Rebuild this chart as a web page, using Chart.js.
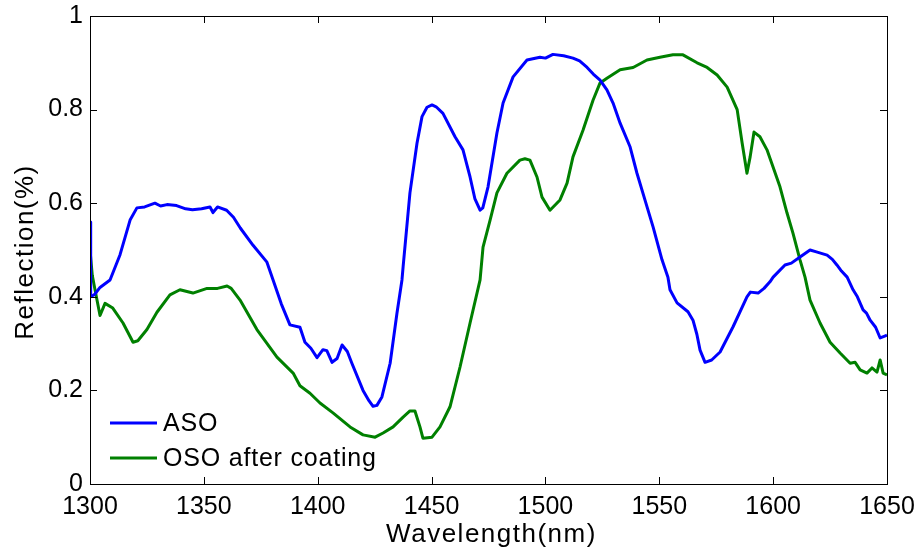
<!DOCTYPE html>
<html>
<head>
<meta charset="utf-8">
<script src="https://cdn.jsdelivr.net/npm/chart.js@4.4.1/dist/chart.umd.min.js"></script>
<style>
  html, body { margin: 0; padding: 0; background: #fff; }
  #wrap { width: 923px; height: 558px; }
</style>
</head>
<body>
<div id="wrap"><canvas id="chart" width="923" height="558"></canvas></div>
<script>
// wavelength (nm) / reflection
const asoWl = [1300, 1300.3, 1302, 1304.4, 1308.8, 1313.2, 1317.6, 1320.6, 1324, 1328.5, 1331, 1333.8, 1338, 1342, 1345, 1349, 1352.7, 1354, 1356, 1360, 1363, 1366, 1371.6, 1377.7, 1380.4, 1384, 1387.8, 1392.2, 1394.4, 1397, 1399.7, 1402.3, 1404, 1406.3, 1408.5, 1410.7, 1413, 1415, 1419.9, 1422.5, 1424.3, 1426, 1428.2, 1431.8, 1434.8, 1437, 1437.5, 1440.5, 1443.6, 1445.8, 1448, 1450.2, 1452, 1455, 1460.3, 1463.8, 1466.9, 1469, 1471.3, 1472.5, 1474.8, 1478.7, 1481.4, 1485.8, 1491.9, 1497.6, 1500, 1503.3, 1508, 1512.1, 1515, 1518.3, 1521, 1524, 1527, 1529.7, 1532.8, 1537.2, 1540.2, 1543.7, 1547.3, 1551.2, 1553.8, 1554.7, 1557.8, 1562.6, 1564.8, 1566.5, 1567.9, 1570.1, 1573, 1576.7, 1582.4, 1588.5, 1590, 1593.4, 1596, 1598.6, 1600, 1605.2, 1608, 1611.8, 1616.2, 1619, 1623.7, 1626, 1628, 1630, 1632.5, 1635.1, 1637, 1639.5, 1641, 1642.6, 1645, 1647, 1649, 1650];
const asoR = [0.56, 0.40, 0.405, 0.42, 0.436, 0.49, 0.564, 0.59, 0.592, 0.60, 0.594, 0.597, 0.595, 0.588, 0.586, 0.588, 0.592, 0.58, 0.592, 0.585, 0.57, 0.547, 0.51, 0.474, 0.436, 0.385, 0.34, 0.335, 0.303, 0.29, 0.27, 0.287, 0.285, 0.26, 0.268, 0.297, 0.283, 0.258, 0.20, 0.178, 0.166, 0.168, 0.186, 0.258, 0.365, 0.436, 0.464, 0.622, 0.728, 0.785, 0.805, 0.81, 0.806, 0.792, 0.742, 0.714, 0.656, 0.61, 0.585, 0.59, 0.635, 0.75, 0.814, 0.87, 0.906, 0.912, 0.91, 0.918, 0.915, 0.91, 0.904, 0.89, 0.876, 0.863, 0.842, 0.814, 0.771, 0.72, 0.664, 0.607, 0.549, 0.479, 0.442, 0.415, 0.387, 0.368, 0.35, 0.32, 0.286, 0.26, 0.265, 0.282, 0.336, 0.40, 0.41, 0.408, 0.418, 0.432, 0.442, 0.468, 0.472, 0.485, 0.50, 0.496, 0.489, 0.48, 0.468, 0.455, 0.442, 0.415, 0.4, 0.372, 0.365, 0.35, 0.335, 0.312, 0.316, 0.318];

const osoWl = [1300, 1301, 1302.2, 1304.4, 1306.6, 1310, 1314.5, 1318.9, 1321, 1325, 1329.4, 1335.1, 1339.5, 1345.2, 1351.4, 1356, 1360.2, 1362, 1365.9, 1373.3, 1382.1, 1389.2, 1392.2, 1396.6, 1401, 1406.7, 1414.2, 1419.9, 1425.2, 1428.7, 1433.1, 1437.5, 1440.5, 1442.7, 1444.9, 1446.2, 1450.2, 1453.7, 1458.1, 1462.5, 1466.9, 1471.3, 1472.6, 1475.7, 1478.7, 1483.1, 1488.8, 1491, 1493.2, 1496.3, 1498.5, 1502, 1506.4, 1509.5, 1512.1, 1516.5, 1520.9, 1524, 1527, 1532.8, 1538.5, 1544.6, 1550.3, 1556, 1560.4, 1566.6, 1571, 1575.4, 1579.8, 1584.2, 1586.4, 1588.5, 1589.9, 1591.6, 1594.2, 1597.3, 1600, 1603, 1606.1, 1608.7, 1611.8, 1614, 1616.2, 1620.6, 1625, 1629.4, 1633.8, 1636, 1638.2, 1641.2, 1643.4, 1645.6, 1647, 1648.3, 1650];
const osoR = [0.50, 0.446, 0.415, 0.36, 0.386, 0.376, 0.344, 0.303, 0.306, 0.33, 0.367, 0.404, 0.415, 0.408, 0.418, 0.418, 0.423, 0.418, 0.393, 0.33, 0.271, 0.237, 0.21, 0.194, 0.173, 0.152, 0.122, 0.105, 0.10, 0.109, 0.122, 0.143, 0.156, 0.156, 0.122, 0.098, 0.10, 0.122, 0.165, 0.25, 0.344, 0.436, 0.506, 0.564, 0.622, 0.664, 0.692, 0.695, 0.692, 0.656, 0.613, 0.585, 0.607, 0.643, 0.699, 0.756, 0.82, 0.857, 0.867, 0.885, 0.89, 0.906, 0.912, 0.917, 0.917, 0.90, 0.89, 0.874, 0.848, 0.80, 0.728, 0.664, 0.699, 0.752, 0.742, 0.714, 0.677, 0.635, 0.579, 0.536, 0.479, 0.442, 0.393, 0.344, 0.303, 0.28, 0.258, 0.26, 0.244, 0.237, 0.248, 0.239, 0.265, 0.237, 0.233];

const xTicks = [1300, 1350, 1400, 1450, 1500, 1550, 1600, 1650];
const yTicks = [0, 0.2, 0.4, 0.6, 0.8, 1];
const seriesNames = ['ASO', 'OSO after coating'];
const seriesColors = ['#0000ff', '#008000'];
const xTitle = 'Wavelength(nm)';
const yTitle = 'Reflection(%)';

const FONT = '"Liberation Sans", Arial, sans-serif';
const pts = (xs, ys) => xs.map((x, i) => ({ x: x, y: ys[i] }));

// frame box, inward ticks on all sides, legend and axis titles (matlab look)
const framePlugin = {
    id: 'frame',
    afterDatasetsDraw(chart) {
        const { ctx, chartArea: a, scales } = chart;
        ctx.save();
        ctx.strokeStyle = '#000';
        ctx.lineWidth = 1;
        ctx.strokeRect(a.left + 0.5, a.top + 0.5, a.right - a.left, a.bottom - a.top);
        const len = 7;
        ctx.beginPath();
        xTicks.forEach(v => {
            const px = Math.round(scales.x.getPixelForValue(v)) + 0.5;
            ctx.moveTo(px, a.bottom); ctx.lineTo(px, a.bottom - len);
            ctx.moveTo(px, a.top); ctx.lineTo(px, a.top + len);
        });
        yTicks.forEach(v => {
            const py = Math.round(scales.y.getPixelForValue(v)) + 0.5;
            ctx.moveTo(a.left, py); ctx.lineTo(a.left + len, py);
            ctx.moveTo(a.right, py); ctx.lineTo(a.right - len, py);
        });
        ctx.stroke();

        // legend inside lower-left
        ctx.font = '25px ' + FONT;
        ctx.letterSpacing = '0.8px';
        ctx.textBaseline = 'middle';
        ctx.fillStyle = '#000';
        const lx = a.left + 20, ly = a.bottom - 61;
        seriesNames.forEach((n, i) => {
            const y = ly + i * 35;
            ctx.strokeStyle = seriesColors[i];
            ctx.lineWidth = 3;
            ctx.beginPath(); ctx.moveTo(lx, y); ctx.lineTo(lx + 47, y); ctx.stroke();
            ctx.fillText(n, lx + 53, y + 1);
        });

        // axis titles
        ctx.font = '26px ' + FONT;
        ctx.letterSpacing = '1.5px';
        ctx.textAlign = 'center';
        ctx.fillText(xTitle, (a.left + a.right) / 2 + 3, 535);
        ctx.translate(26, (a.top + a.bottom) / 2 + 2);
        ctx.rotate(-Math.PI / 2);
        ctx.fillText(yTitle, 0, 0);
        ctx.restore();
    }
};

new Chart(document.getElementById('chart'), {
    type: 'line',
    data: {
        datasets: [
            { label: seriesNames[0], data: pts(asoWl, asoR), borderColor: seriesColors[0], borderWidth: 3, pointRadius: 0, tension: 0, borderJoinStyle: 'round' },
            { label: seriesNames[1], data: pts(osoWl, osoR), borderColor: seriesColors[1], borderWidth: 3, pointRadius: 0, tension: 0, borderJoinStyle: 'round' }
        ]
    },
    options: {
        responsive: false,
        animation: false,
        layout: { padding: { top: 16, right: 36, left: 0, bottom: 0 } },
        plugins: { legend: { display: false }, tooltip: { enabled: false } },
        scales: {
            x: {
                type: 'linear', min: 1300, max: 1650,
                afterFit: s => { s.height = 74; s.paddingLeft = 0; s.paddingRight = 0; },
                afterBuildTicks: s => { s.ticks = xTicks.map(v => ({ value: v })); },
                grid: { display: false, drawTicks: false },
                border: { display: false },
                ticks: { color: '#000', font: { family: FONT, size: 25 }, padding: 8, maxRotation: 0, callback: v => String(v) }
            },
            y: {
                min: 0, max: 1,
                afterFit: s => { s.width = 90; s.paddingTop = 0; s.paddingBottom = 0; },
                afterBuildTicks: s => { s.ticks = yTicks.map(v => ({ value: v })); },
                grid: { display: false, drawTicks: false },
                border: { display: false },
                ticks: { color: '#000', font: { family: FONT, size: 25 }, padding: 7, callback: v => String(v) }
            }
        }
    },
    plugins: [framePlugin]
});
</script>
</body>
</html>
